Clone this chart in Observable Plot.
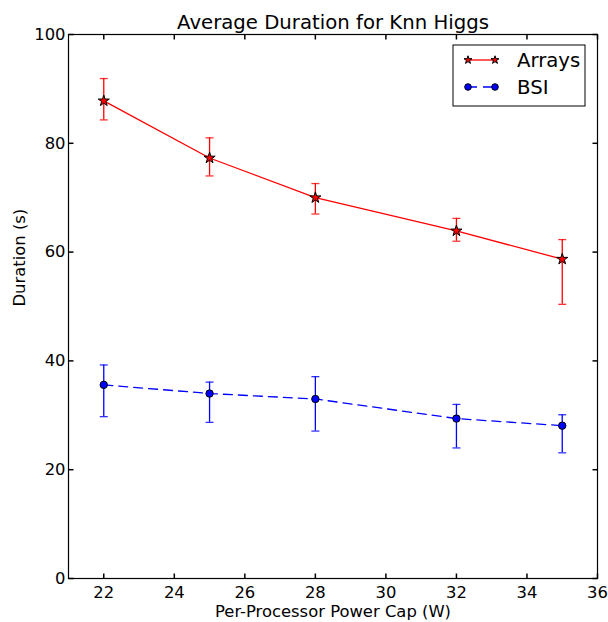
<!DOCTYPE html>
<html>
<head>
<meta charset="utf-8">
<script src="https://cdn.jsdelivr.net/npm/d3@7"></script>
<script src="https://cdn.jsdelivr.net/npm/@observablehq/plot@0.6"></script>
<style>
  html, body { margin: 0; padding: 0; background: #fff; }
  #chart svg { display: block; font-family: "DejaVu Sans", sans-serif; }
</style>
</head>
<body>
<div id="chart"></div>
<script>
const powerCaps = [22, 25, 28, 32, 35];
const arraysMean = [87.8, 77.3, 70.0, 63.9, 58.7];
const arraysLow  = [84.3, 74.0, 67.0, 62.0, 50.4];
const arraysHigh = [91.9, 81.0, 72.6, 66.2, 62.3];
const bsiMean = [35.6, 34.0, 33.0, 29.4, 28.1];
const bsiLow  = [29.75, 28.7, 27.1, 24.0, 23.1];
const bsiHigh = [39.25, 36.1, 37.1, 32.0, 30.1];
const xTicks = [22, 24, 26, 28, 30, 32, 34, 36];
const yTicks = [0, 20, 40, 60, 80, 100];
const seriesNames = ["Arrays", "BSI"];
const titleText = "Average Duration for Knn Higgs";
const xLabel = "Per-Processor Power Cap (W)";
const yLabel = "Duration (s)";

const arrays = powerCaps.map((x, i) => ({x, y: arraysMean[i], lo: arraysLow[i], hi: arraysHigh[i]}));
const bsi = powerCaps.map((x, i) => ({x, y: bsiMean[i], lo: bsiLow[i], hi: bsiHigh[i]}));

const RED = "#ff0000", BLUE = "#0000ff";
const FS = 16.4, TFS = 19.7;
const TL = 5;
const capSym = {draw(ctx) { ctx.moveTo(-4, 0); ctx.lineTo(4, 0); }};
const tickRight = {draw(ctx) { ctx.moveTo(0, 0); ctx.lineTo(TL, 0); }};
const tickLeft = {draw(ctx) { ctx.moveTo(0, 0); ctx.lineTo(-TL, 0); }};
const tickUp = {draw(ctx) { ctx.moveTo(0, 0); ctx.lineTo(0, -TL); }};
const tickDown = {draw(ctx) { ctx.moveTo(0, 0); ctx.lineTo(0, TL); }};

function errorMarks(data, color) {
  return [
    Plot.ruleX(data, {x: "x", y1: "lo", y2: "hi", stroke: color, strokeWidth: 1.3}),
    Plot.dot(data, {x: "x", y: "hi", symbol: capSym, stroke: color, fill: "none", strokeWidth: 1.3, strokeOpacity: 0.8}),
    Plot.dot(data, {x: "x", y: "lo", symbol: capSym, stroke: color, fill: "none", strokeWidth: 1.3, strokeOpacity: 0.8})
  ];
}

const W = 608, H = 622;
const mL = 68, mR = 11, mT = 34, mB = 44;

const plot = Plot.plot({
  width: W,
  height: H,
  marginLeft: mL, marginRight: mR, marginTop: mT, marginBottom: mB,
  style: {fontFamily: "DejaVu Sans, sans-serif", fontSize: FS + "px", color: "black", background: "white"},
  x: {domain: [21, 36]},
  y: {domain: [0, 100]},
  marks: [
    Plot.axisX({ticks: xTicks, tickSize: 0, tickPadding: 8, label: null, fontSize: FS}),
    Plot.axisY({ticks: yTicks, tickSize: 0, tickPadding: 3, label: null, fontSize: FS}),
    Plot.dot(yTicks, {y: d => d, frameAnchor: "left", symbol: tickRight, stroke: "black", fill: "none"}),
    Plot.dot(yTicks, {y: d => d, frameAnchor: "right", symbol: tickLeft, stroke: "black", fill: "none"}),
    Plot.dot(xTicks, {x: d => d, frameAnchor: "bottom", symbol: tickUp, stroke: "black", fill: "none"}),
    Plot.dot(xTicks, {x: d => d, frameAnchor: "top", symbol: tickDown, stroke: "black", fill: "none"}),
    ...errorMarks(arrays, RED),
    ...errorMarks(bsi, BLUE),
    Plot.line(arrays, {x: "x", y: "y", stroke: RED, strokeWidth: 1.3}),
    Plot.line(bsi, {x: "x", y: "y", stroke: BLUE, strokeWidth: 1.3, strokeDasharray: "9,6"}),
    Plot.dot(arrays, {x: "x", y: "y", symbol: "star", r: 3.5, fill: RED, stroke: "black", strokeWidth: 1}),
    Plot.dot(bsi, {x: "x", y: "y", symbol: "circle", r: 3.7, fill: BLUE, stroke: "black", strokeWidth: 1}),
    Plot.frame({stroke: "black", strokeWidth: 1.2}),
    Plot.text([titleText], {frameAnchor: "top", lineAnchor: "bottom", dy: -5.7, fontSize: TFS, fill: "black"}),
    Plot.text([yLabel], {frameAnchor: "left", rotate: -90, dx: -48.7, fontSize: FS, fill: "black"}),
    Plot.text([xLabel], {frameAnchor: "bottom", lineAnchor: "bottom", dy: 38.7, fontSize: FS, fill: "black"})
  ]
});

document.getElementById("chart").appendChild(plot);

// Legend (upper right, inside the frame)
const svg = d3.select(plot);
const frameRight = W - mR;
const lx = frameRight - 144, ly = mT + 11, lw = 132, lh = 61;
const g = svg.append("g").attr("font-family", "DejaVu Sans, sans-serif").attr("text-anchor", "start");
g.append("rect").attr("x", lx).attr("y", ly).attr("width", lw).attr("height", lh)
  .attr("fill", "white").attr("stroke", "black").attr("stroke-width", 1);
const rows = [
  {name: seriesNames[0], color: RED, dash: null, sym: d3.symbolStar, size: 20},
  {name: seriesNames[1], color: BLUE, dash: "9,6", sym: d3.symbolCircle, size: Math.PI * 3.3 * 3.3}
];
rows.forEach((r, i) => {
  const cy = ly + 15 + i * 27;
  const x1 = lx + 15, x2 = lx + 42;
  g.append("line").attr("x1", x1).attr("x2", x2).attr("y1", cy).attr("y2", cy)
    .attr("stroke", r.color).attr("stroke-width", 1.3)
    .attr("stroke-dasharray", r.dash);
  [x1, x2].forEach(px => {
    g.append("path").attr("d", d3.symbol(r.sym, r.size)())
      .attr("transform", `translate(${px},${cy})`)
      .attr("fill", r.color).attr("stroke", "black").attr("stroke-width", 1);
  });
  g.append("text").attr("x", lx + 64).attr("y", cy).attr("dy", "0.36em")
    .attr("text-anchor", "start")
    .attr("font-size", TFS).attr("fill", "black").text(r.name);
});
</script>
</body>
</html>
